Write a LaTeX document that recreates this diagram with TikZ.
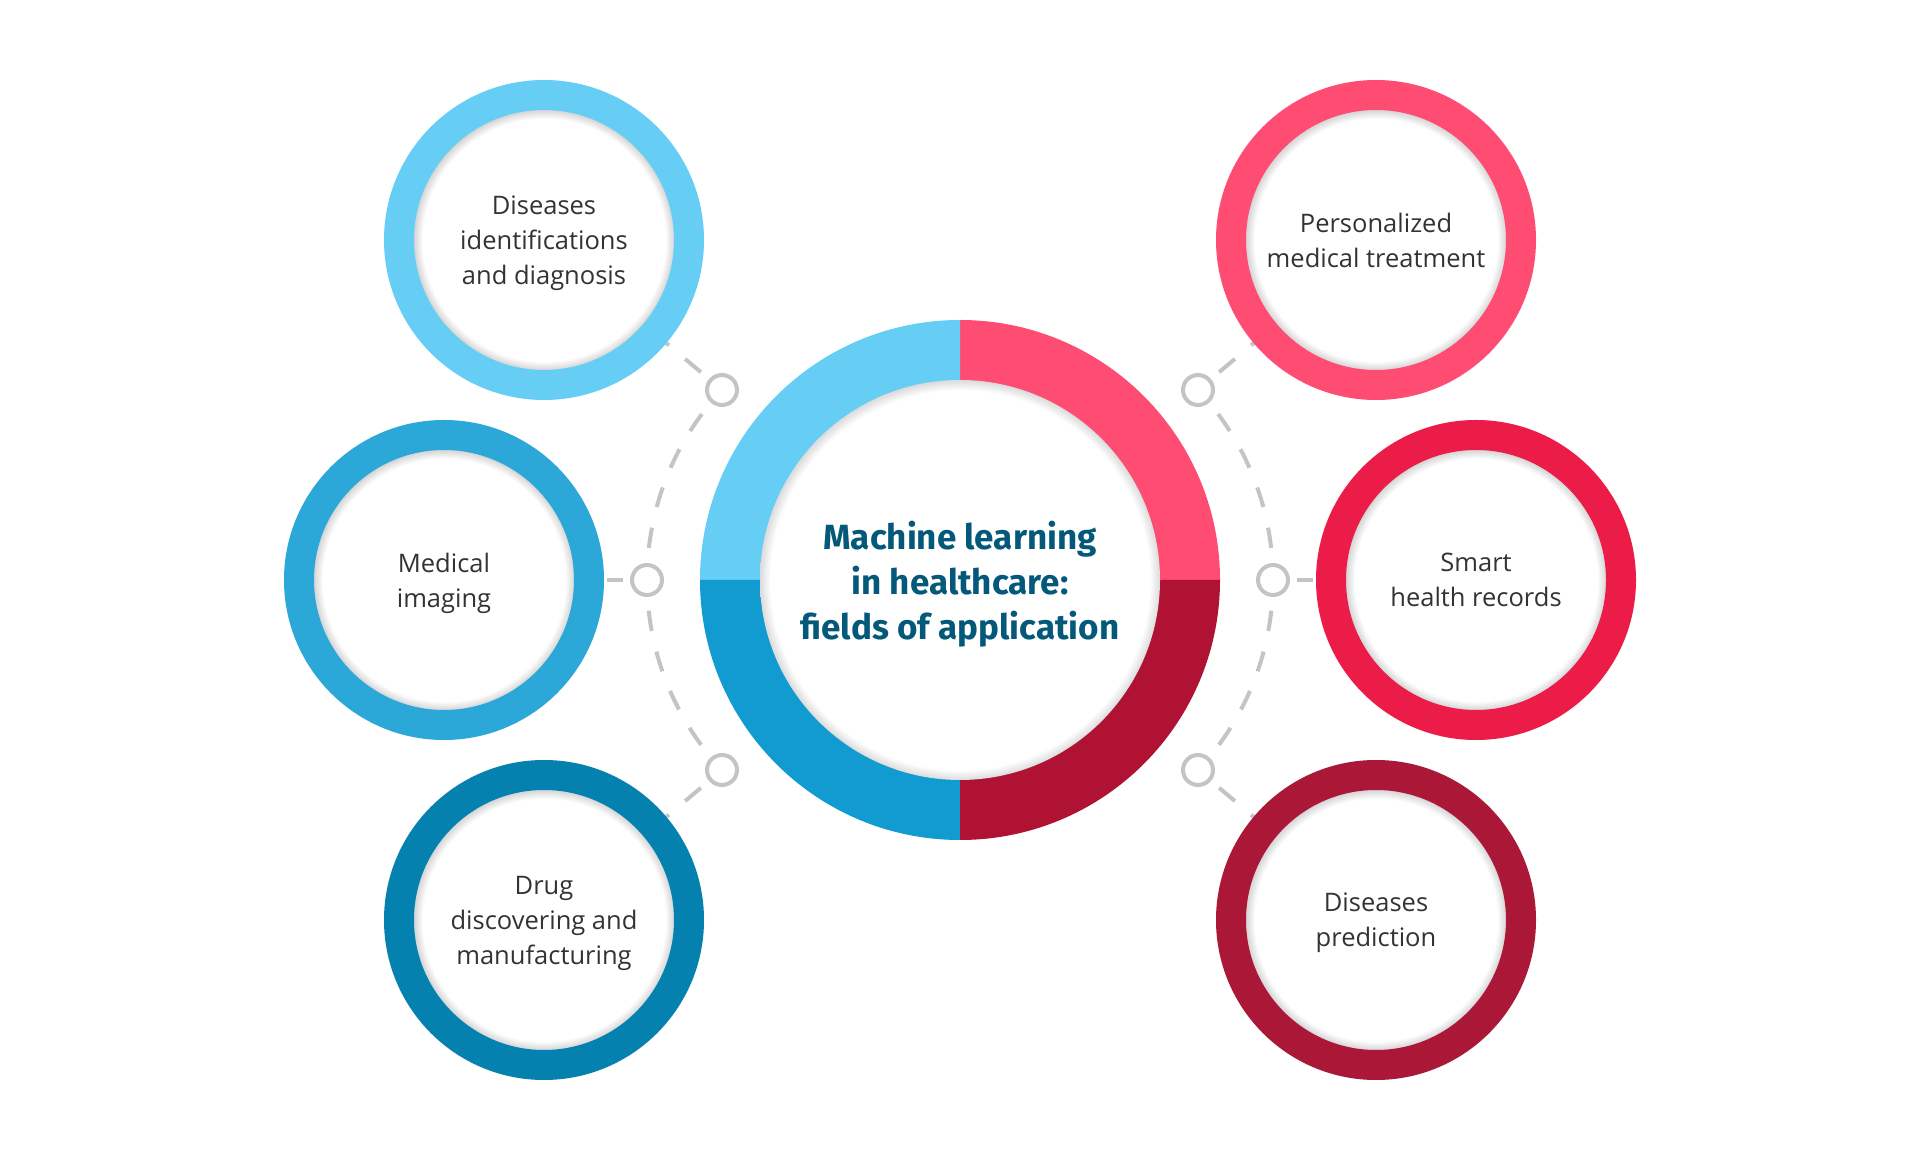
\documentclass[tikz,border=0pt]{standalone}
\usepackage{fontspec}
\newfontfamily\bodyfont{Open Sans}
\newfontfamily\titlefont{Fira Sans}
\definecolor{cTL}{HTML}{66CDF4}
\definecolor{cML}{HTML}{2CA8D8}
\definecolor{cBL}{HTML}{0581B0}
\definecolor{cCBL}{HTML}{129BD0}
\definecolor{cTR}{HTML}{FF4C72}
\definecolor{cMR}{HTML}{EC1C48}
\definecolor{cBR}{HTML}{AB1736}
\definecolor{cCBR}{HTML}{B01233}
\definecolor{titlec}{HTML}{04587A}
\definecolor{conngray}{HTML}{C4C4C4}
\definecolor{txtc}{HTML}{333333}
\pgfdeclarelayer{bg}
\pgfdeclarelayer{lines}
\pgfsetlayers{bg,lines,main}
\pgfdeclareradialshading{glowsat}{\pgfpoint{0bp}{0bp}}{color(0bp)=(white); color(20.9bp)=(white); color(22.4bp)=(black!16); color(50bp)=(black!16)}
\pgfdeclareradialshading{glowctr}{\pgfpoint{0bp}{0bp}}{color(0bp)=(white); color(23.7bp)=(white); color(25bp)=(black!14); color(50bp)=(black!14)}
\begin{document}
\begin{tikzpicture}[x=1pt,y=1pt,
 sat/.style={circle, minimum size=290pt, inner sep=0pt, line width=30pt, draw=#1, shade, shading=glowsat, text=txtc, align=center, text depth=0pt, font=\bodyfont\fontsize{25.5}{35}\selectfont},
 dotc/.style={circle, minimum size=30pt, inner sep=0pt, line width=4pt, draw=conngray, fill=white},
 arcline/.style={draw=conngray, line width=4pt, dash pattern=on 20.5pt off 21.2pt, dash phase=10.25pt},
 spoke/.style={draw=conngray, line width=4pt, dash pattern=on 20.5pt off 21.2pt, dash phase=31pt},
 stub/.style={draw=conngray, line width=4pt, dash pattern=on 16pt off 20pt, dash phase=29pt}
]
\begin{pgfonlayer}{bg}
\fill[white] (0,0) rectangle (1920,1160);
\end{pgfonlayer}
\useasboundingbox (0,0) rectangle (1920,1160);

% central ring
\coordinate (o) at (960,580);
\fill[cTR] (o) -- ++(0:260) arc[start angle=0, end angle=90, radius=260] -- cycle;
\fill[cTL] (o) -- ++(90:260) arc[start angle=90, end angle=180, radius=260] -- cycle;
\fill[cCBL] (o) -- ++(180:260) arc[start angle=180, end angle=270, radius=260] -- cycle;
\fill[cCBR] (o) -- ++(270:260) arc[start angle=270, end angle=360, radius=260] -- cycle;
\node[circle, minimum size=400pt, inner sep=0pt, shade, shading=glowctr, align=center, text=titlec, text depth=0pt,
      font=\titlefont\bfseries\fontsize{35}{45}\selectfont] (c) at (o)
      {Machine learning\\in healthcare:\\fields of application};

% satellites
\node[sat=cTL] (tl) at (544,920) {Diseases\\identifications\\and diagnosis};
\node[sat=cML] (ml) at (444,580) {Medical\\imaging};
\node[sat=cBL] (bl) at (544,240) {Drug\\discovering and\\manufacturing};
\node[sat=cTR] (tr) at (1376,920) {Personalized\\medical treatment};
\node[sat=cMR] (mr) at (1476,580) {Smart\\health records};
\node[sat=cBR] (br) at (1376,240) {Diseases\\prediction};

% small rings
\node[dotc] (l1) at (722,770) {};
\node[dotc] (l2) at (647,580) {};
\node[dotc] (l3) at (722,390) {};
\node[dotc] (r1) at (1198,770) {};
\node[dotc] (r2) at (1273,580) {};
\node[dotc] (r3) at (1198,390) {};

\begin{pgfonlayer}{lines}
\draw[arcline] (l1.center) arc[start angle=136.91, end angle=223.09, radius=278.08];
\draw[arcline] (r1.center) arc[start angle=43.09, end angle=-43.09, radius=278.08];
\draw[spoke] (l1) -- (tl);
\draw[spoke] (l3) -- (bl);
\draw[spoke] (r1) -- (tr);
\draw[spoke] (r3) -- (br);
\draw[stub] (l2) -- (ml);
\draw[stub] (r2) -- (mr);
\end{pgfonlayer}
\end{tikzpicture}
\end{document}
